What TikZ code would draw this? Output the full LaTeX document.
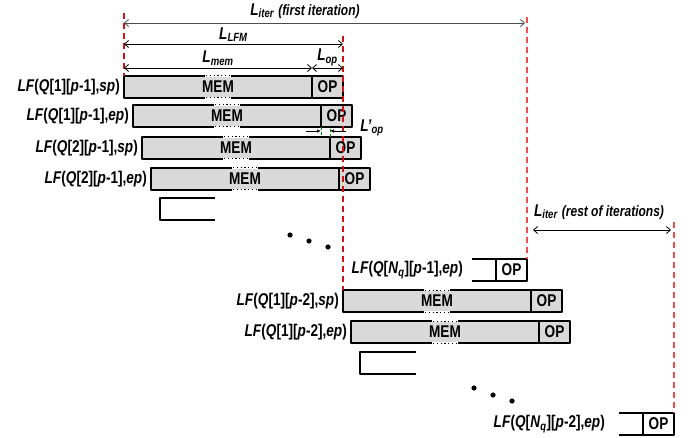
\documentclass[tikz,border=0pt]{standalone}
\usepackage{fontspec}
\setmainfont{Liberation Sans}[FakeStretch=0.8]
\usetikzlibrary{positioning,arrows.meta,calc}

\definecolor{guidedark}{RGB}{205,20,20}
\definecolor{guidelight}{RGB}{235,80,80}

\newcommand{\lfq}[3]{\textit{LF}(\textit{Q}[#1][\textit{p}-#2],\textit{#3})}
\newcommand{\dimL}[1]{\textit{L}\textsubscript{\textit{#1}}}

\tikzset{
  memcell/.style={draw, line width=1.2pt, fill=gray!30, minimum width=188pt,
    minimum height=22pt, inner sep=0pt, outer sep=0pt,
    font=\bfseries\fontsize{17}{19}\selectfont},
  opcell/.style={memcell, minimum width=31pt},
  lflabel/.style={font=\bfseries\fontsize{17}{19}\selectfont, inner sep=0pt},
  partline/.style={line width=1.2pt},
  gapcut/.style={draw=white, line width=2.6pt},
  gapdots/.style={dash pattern=on 1.2pt off 2.6pt, line width=1pt},
  dimline/.style={{Straight Barb[length=4pt,width=7pt]}-{Straight Barb[length=4pt,width=7pt]}, line width=0.8pt},
  dimtext/.style={font=\bfseries\fontsize{17}{19}\selectfont, inner sep=1pt},
  shiftarrow/.style={-{Latex[length=4pt,width=3.5pt]}, line width=0.7pt},
  redguide/.style={draw=guidedark, dash pattern=on 6pt off 4pt, line width=1.3pt},
  greenguide/.style={draw=green!60!black, dash pattern=on 3pt off 2pt, line width=0.9pt}
}

\begin{document}
\begin{tikzpicture}[x=1pt,y=-1pt,line join=round]
\useasboundingbox (0,0) rectangle (692,438);

% full LF bars: MEM part + OP part
\foreach \nm/\x/\y/\q/\pp/\s in {a/124/76/1/1/sp, b/133/105/1/1/ep, c/142/137/2/1/sp,
    d/151/168/2/1/ep, e/343/290/1/2/sp, f/351/321/1/2/ep}{
  \node[memcell, anchor=north west] (\nm-mem) at (\x,\y) {MEM};
  \node[opcell, anchor=west] (\nm-op) at (\nm-mem.east) {OP};
  \node[lflabel, left=4pt of \nm-mem] (\nm-lab) {\lfq{\q}{\pp}{\s}};
  \draw[gapcut] ([xshift=-13pt]\nm-mem.north) -- ([xshift=13pt]\nm-mem.north);
  \draw[gapdots] ([xshift=-12pt]\nm-mem.north) -- ([xshift=13pt]\nm-mem.north);
  \draw[gapcut] ([xshift=-13pt]\nm-mem.south) -- ([xshift=13pt]\nm-mem.south);
  \draw[gapdots] ([xshift=-12pt]\nm-mem.south) -- ([xshift=13pt]\nm-mem.south);
}

% cut-off bars
\draw[partline] (215,198) -| (160,220) -- (215,220);
\draw[partline] (416,352) -| (360,374) -- (416,374);

% last queue of each iteration
\node[opcell, fill=white, anchor=north east] (g-op) at (527,259) {OP};
\draw[partline] (g-op.north west) -- ++(-24,0);
\draw[partline] (g-op.south west) -- ++(-24,0);
\node[lflabel, left=33pt of g-op] (g-lab) {\lfq{\textit{N}\textsubscript{\textit{q}}}{1}{ep}};
\node[opcell, fill=white, anchor=north east] (h-op) at (674,413) {OP};
\draw[partline] (h-op.north west) -- ++(-24,0);
\draw[partline] (h-op.south west) -- ++(-24,0);
\node[lflabel, left=38pt of h-op] (h-lab) {\lfq{\textit{N}\textsubscript{\textit{q}}}{2}{ep}};

% dots
\foreach \dx/\dy in {290/235, 309/241, 328/247, 474/388, 493/395, 512/401}
  \fill (\dx,\dy) circle (2.6pt);

% red guide lines
\coordinate (r1) at (124,13);
\coordinate (r2) at (343,36);
\coordinate (r3) at (527,17);
\coordinate (r4) at (674,222);
\draw[redguide] (r1) -- (a-mem.north west);
\draw[redguide] (r2) -- (e-mem.north west);
\draw[redguide, draw=guidelight] (r3) -- (g-op.north east);
\draw[redguide, draw=guidelight] (r4) -- (h-op.north east);

% dimension arrows
\coordinate (it1L) at (124,23);
\coordinate (it1R) at (525,23);
\draw[dimline, draw=black!70] (it1L) -- (it1R);
\node[dimtext] (it1-lab) at (305,11) {\dimL{iter} {\fontsize{15}{17}\selectfont\textit{(first iteration)}}};

\coordinate (lfmL) at (124,44);
\coordinate (lfmR) at (343,44);
\draw[dimline] (lfmL) -- (lfmR) node[dimtext, midway, above=1pt] (lfm-lab) {\dimL{LFM}};

\coordinate (memL) at (124,68);
\coordinate (memR) at (312,68);
\coordinate (opR) at (343,68);
\draw[dimline] (memL) -- (memR) node[dimtext, midway, above=1pt] (mem-lab) {\dimL{mem}};
\draw[dimline] (memR) -- (opR) node[dimtext, midway, above=1pt] (op-lab) {\dimL{op}};

\coordinate (itRL) at (533,230);
\coordinate (itRR) at (671,230);
\draw[dimline] (itRL) -- (itRR);
\node[dimtext] (itR-lab) at (599,212) {\dimL{iter} {\fontsize{15}{17}\selectfont\textit{(rest of iterations)}}};

% shift of OP between consecutive bars
\draw[greenguide] (b-op.south west) -- (b-op.south west |- c-op.north);
\draw[greenguide] (c-op.north west) -- (c-op.north west |- b-op.south);
\coordinate (lpA) at (306,131);
\coordinate (lpB) at (321,131);
\coordinate (lpC) at (330,131);
\coordinate (lpD) at (346,131);
\draw[shiftarrow] (lpA) -- (lpB);
\draw[shiftarrow] (lpD) -- (lpC);
\node[dimtext] (lp-lab) at (372,128) {\textit{L'}\textsubscript{\textit{op}}};

\end{tikzpicture}
\end{document}
